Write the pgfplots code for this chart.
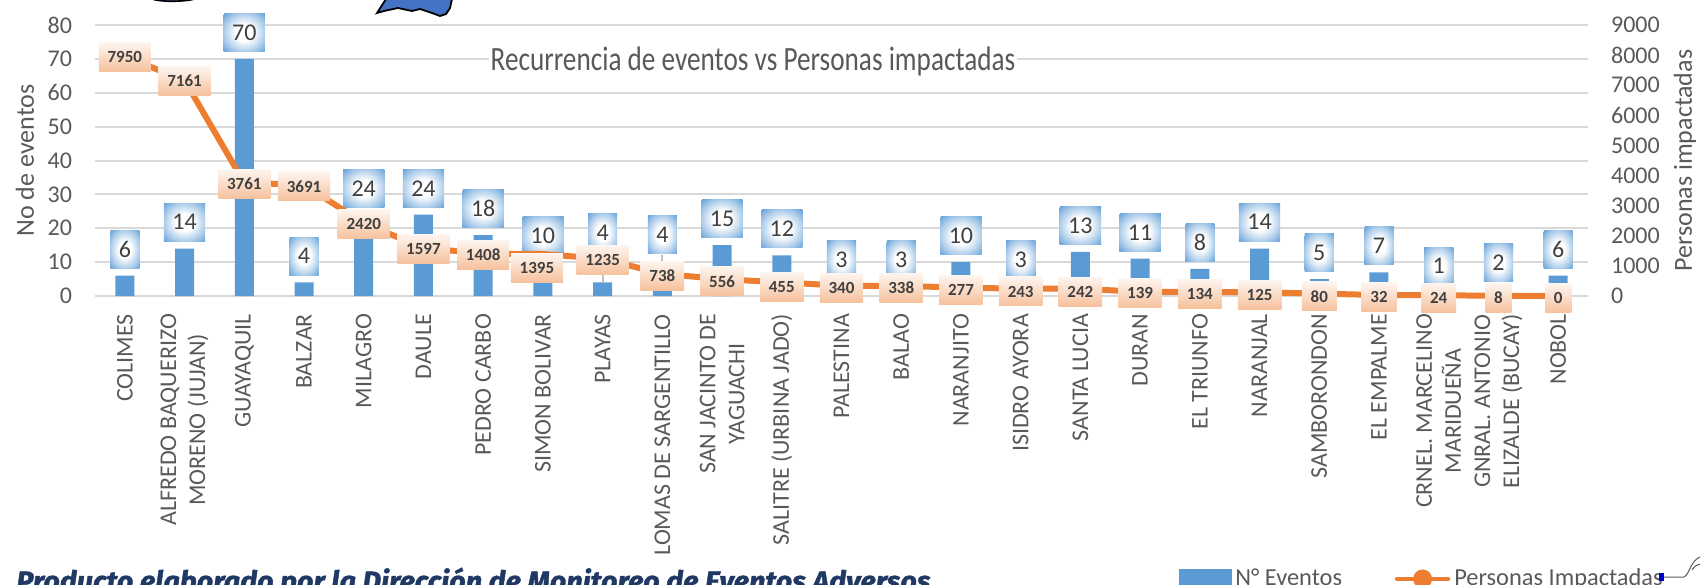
\documentclass[border=0pt]{standalone}
\usepackage{fontspec}
\usepackage{pgfplots}
\usepackage{pgfplotstable}
\pgfplotsset{compat=1.18}
\setmainfont{Carlito}
\newfontfamily\condfont[FakeStretch=0.80]{Carlito}
\newfontfamily\footfont[FakeStretch=1.03,FakeBold=1.5]{Fira Sans}

\definecolor{barblue}{HTML}{5B9BD5}
\definecolor{lineor}{HTML}{ED7D31}
\definecolor{gridc}{HTML}{D9D9D9}
\definecolor{txt}{HTML}{595959}
\definecolor{lab}{HTML}{404040}
\definecolor{navy}{HTML}{1F3864}
\definecolor{mapblue}{HTML}{4472C4}
\pgfdeclareradialshading{bluebox}{\pgfpoint{0bp}{0bp}}{%
  color(0bp)=(white); color(11bp)=(white); color(25bp)=(barblue!50); color(36bp)=(barblue!95)}

\pgfplotstableread{
x ev dy
0 6 0
1 14 0
2 70 0
3 4 0
4 24 0
5 24 0
6 18 0
7 10 0
8 4 11.75
9 4 10.75
10 15 0
11 12 0
12 3 0
13 3 0
14 10 0
15 3 0
16 13 0
17 11 0
18 8 0
19 14 0
20 5 0
21 7 0
22 1 0
23 2 0
24 6 0
}\eventos

\pgfplotstableread{
x pers dx dy
0 7950 0 -0.3
1 7161 0 -0.4
2 3761 0 -0.7
3 3691 0 -0.7
4 2420 0 -0.6
5 1597 0 -0.6
6 1408 0 -0.7
7 1395 -3 -7
8 1235 0 -0.7
9 738 0 -1
10 556 0 -1
11 455 0 -2.5
12 340 0 -1
13 338 0 -1
14 277 0 -1.2
15 243 0 -1.4
16 242 0 -1.4
17 139 0 -0.8
18 134 0 -0.8
19 125 0 -1.4
20 80 0 -1.4
21 32 0 -1.2
22 24 0 -1.2
23 8 0 -1.2
24 0 0 -1.2
}\personas

\pgfplotsset{
  base/.style={
    at={(47.5pt,144pt)},
    anchor=south west,
    scale only axis,
    width=746.5pt,
    height=135.5pt,
    xmin=-0.5, xmax=24.5,
    clip=false,
    tick style={draw=none},
    axis line style={draw=none},
    tick label style={font=\fontsize{12}{14.5}\selectfont, text=txt},
    label style={font=\fontsize{13}{15}\selectfont, text=txt},
    /pgf/number format/assume math mode=true,
    /pgf/number format/set thousands separator={},
  },
}

\begin{document}
\begin{tikzpicture}[x=1pt,y=1pt]
\useasboundingbox (0,0) rectangle (850,292);

% recortes del mapa y del pie
\fill[mapblue, draw=black, line width=0.8pt] (76,292.5) .. controls (80,291) and (92,291) .. (97.5,292.5) -- cycle;
\fill[mapblue, draw=black, line width=0.9pt] (193,292.5) -- (188.5,285.5) -- (192,286.5) -- (199,288) -- (206,286.5) -- (210,287.5) -- (216,285.5) -- (220,284) -- (223,285) -- (225,288) -- (226,292.5) -- cycle;

\begin{axis}[
  base,
  name=main,
  ymin=0, ymax=80,
  ytick={0,10,...,80},
  axis y line*=left,
  axis x line*=bottom,
  ymajorgrids=true,
  grid style={gridc, line width=1pt},
  xtick={0,...,24},
  xticklabels={COLIMES,{ALFREDO BAQUERIZO\\MORENO (JUJAN)},GUAYAQUIL,BALZAR,MILAGRO,DAULE,PEDRO CARBO,SIMON BOLIVAR,PLAYAS,LOMAS DE SARGENTILLO,{SAN JACINTO DE\\YAGUACHI},SALITRE (URBINA JADO),PALESTINA,BALAO,NARANJITO,ISIDRO AYORA,SANTA LUCIA,DURAN,EL TRIUNFO,NARANJAL,SAMBORONDON,EL EMPALME,{CRNEL. MARCELINO\\MARIDUEÑA},{GNRAL. ANTONIO\\ELIZALDE (BUCAY)},NOBOL},
  xticklabel style={rotate=90, anchor=east, align=center, xshift=-5.5pt},
  yticklabel style={xshift=-8pt},
  ylabel={No de eventos},
  ylabel style={at={(axis description cs:0,0.5)}, anchor=center, yshift=35pt},
]
% lineas guia de las etiquetas desplazadas
\addplot[color=black!25, line width=1pt] coordinates {(8,4)(8,12)};
\addplot[color=black!25, line width=1pt] coordinates {(9,4)(9,12)};
\addplot[ybar, bar width=9.5pt, fill=barblue, draw=none,
  visualization depends on={\thisrow{dy} \as \dybox},
  nodes near coords,
  point meta=y,
  every node near coord/.append style={
    anchor=south, yshift=3.5pt+\dybox pt, shading=bluebox, text=lab,
    font=\fontsize{12}{14}\selectfont,
    inner xsep=4.25pt, inner ysep=0pt, minimum height=19pt,
  },
] table[x=x, y=ev] {\eventos};
\end{axis}

\begin{axis}[
  base,
  ymin=0, ymax=9000,
  ytick={0,1000,...,9000},
  axis y line*=right,
  axis x line=none,
  yticklabel style={xshift=8pt},
  ylabel={Personas impactadas},
  ylabel style={at={(axis description cs:1,0.5)}, anchor=center, yshift=-48.5pt},
  legend style={
    at={(axis description cs:0.7255,-1.044)}, anchor=west,
    draw=none, fill=none, inner sep=0pt,
    font=\fontsize{12.2}{14}\selectfont, text=txt,
    /tikz/every even column/.append style={column sep=24.4pt},
  },
  legend columns=2,
  legend cell align=left,
]
\addlegendimage{legend image code/.code={\fill[barblue] (0,-5pt) rectangle (26pt,5pt);}}
\addlegendentry{N° Eventos}
\addplot[
  color=lineor, line width=3pt, mark=none,
  legend image code/.code={
    \draw[lineor, line width=2.2pt, line cap=round] (0,0) -- (25.5pt,0);
    \fill[lineor] (12.75pt,0) circle (3.2pt);
  },
  visualization depends on={\thisrow{dx} \as \dxlab},
  visualization depends on={\thisrow{dy} \as \dylab},
  nodes near coords,
  point meta=y,
  every node near coord/.append style={
    anchor=center, xshift=\dxlab pt, yshift=\dylab pt,
    top color=lineor!8!white, bottom color=lineor!48!white,
    text=lab, font=\fontsize{8.5}{10}\bfseries\selectfont,
    inner xsep=4.4pt, inner ysep=0pt, minimum height=14.5pt,
  },
] table[x=x, y=pers] {\personas};
\addlegendentry{Personas Impactadas}
\end{axis}

\node[fill=white, inner sep=1pt, text=txt, font=\condfont\fontsize{17}{19}\selectfont] at (376.5,261.5) {Recurrencia de eventos vs Personas impactadas};
\node[anchor=base west, inner sep=0pt, text=navy, font=\footfont\fontsize{14}{16}\bfseries\itshape\selectfont] at (8,-3.5) {Producto elaborado por la Dirección de Monitoreo de Eventos Adversos};

\fill[blue!80!black] (829.5,1.5) rectangle (832,5.5);
\draw[gray!70!black, line width=0.5pt] (832,3.5) -- (842,3.5) .. controls (845,5) and (845,12) .. (851,14);
\draw[gray!70!black, line width=0.5pt] (846,7) .. controls (847,9) and (849,10) .. (851,10);
\end{tikzpicture}
\end{document}
